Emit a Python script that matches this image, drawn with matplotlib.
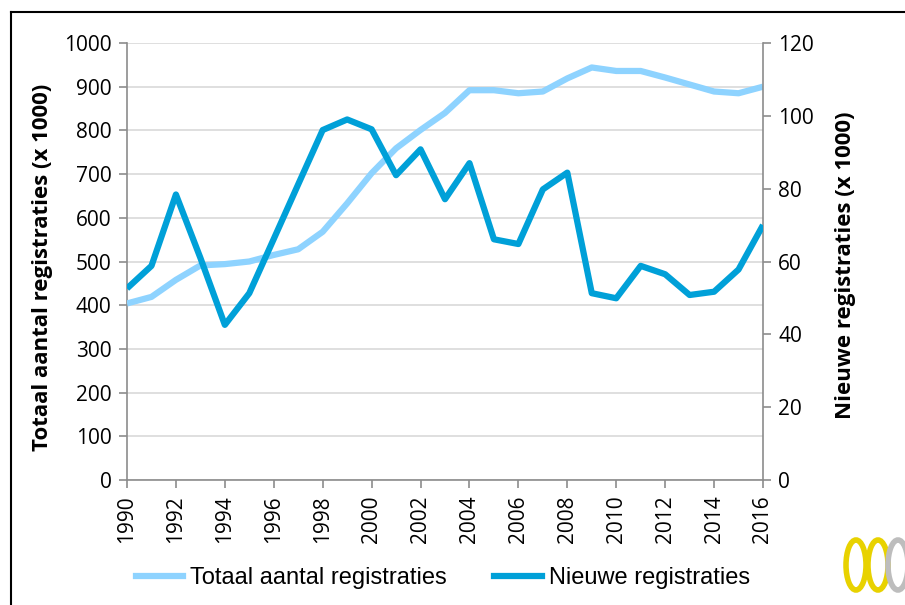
import matplotlib
matplotlib.use("Agg")
import matplotlib.pyplot as plt
from matplotlib.lines import Line2D
from matplotlib.patches import Ellipse

years = list(range(1990, 2017))
totaal = [404, 419, 458, 491, 494, 500, 515, 528, 568, 633, 702, 759, 801, 840,
          892, 892, 885, 889, 919, 944, 936, 936, 921, 905, 889, 885, 900]
nieuwe = [52.6, 58.8, 78.4, 61.0, 42.6, 51.3, 66.2, 81.2, 96.1, 99.0, 96.3, 83.7,
          90.8, 77.1, 87.0, 66.1, 64.8, 79.8, 84.4, 51.3, 49.9, 58.8, 56.5, 50.8,
          51.7, 57.8, 70.0]
xticks = list(range(1990, 2017, 2))

light = "#8ED3FF"
dark = "#00A0D8"
axcol = "#8C8C8C"

plt.rcParams['font.family'] = ['Open Sans', 'DejaVu Sans']

fig = plt.figure(figsize=(9.05, 6.05), dpi=100)
ax = fig.add_axes([127 / 905, 1 - 480 / 605, (763 - 127) / 905, (480 - 43) / 605])
ax2 = ax.twinx()

ax.plot(years, totaal, color=light, lw=4.5, solid_capstyle='butt', zorder=3)
ax2.plot(years, nieuwe, color=dark, lw=4.5, solid_capstyle='butt', zorder=3)

ax.set_xlim(1990, 2016)
ax.set_ylim(0, 1000)
ax2.set_ylim(0, 120)
ax.set_yticks(range(0, 1001, 100))
ax2.set_yticks(range(0, 121, 20))
ax.set_xticks(xticks)
ax.set_xticklabels([str(y) for y in xticks], rotation=90)

ax.grid(axis='y', color='#D9D9D9', lw=1.2)
ax.set_axisbelow(True)

for a in (ax, ax2):
    a.spines['top'].set_visible(False)
    for s in ('left', 'right', 'bottom'):
        a.spines[s].set_color(axcol)
        a.spines[s].set_linewidth(1.2)
    a.tick_params(axis='both', colors=axcol, labelcolor='black', labelsize=15,
                  length=6, width=1.2, direction='out', pad=5)
ax.spines['right'].set_visible(False)
ax2.spines['left'].set_visible(False)
ax2.spines['bottom'].set_visible(False)

ax.set_ylabel("Totaal aantal registraties (x 1000)", fontsize=16, fontweight='bold',
              va='center', ha='center')
ax.yaxis.set_label_coords((43 - 127) / 636, (480 - 267) / 437)
ax2.set_ylabel("Nieuwe registraties (x 1000)", fontsize=16, fontweight='bold',
               rotation=90, va='center', ha='center')
ax2.yaxis.set_label_coords((845 - 127) / 636, (480 - 265) / 437)

handles = [Line2D([], [], color=light, lw=4.5), Line2D([], [], color=dark, lw=4.5)]
fig.legend(handles, ["Totaal aantal registraties", "Nieuwe registraties"],
           loc='center', bbox_to_anchor=(443 / 905, 1 - 578 / 605), ncol=2, frameon=False,
           handlelength=2.0, handletextpad=0.3, columnspacing=2.0,
           prop={'family': ['Liberation Sans Narrow', 'Liberation Sans'], 'size': 17})

# border of the chart area
fig.add_artist(Line2D([11 / 905, 11 / 905], [0, 1 - 12 / 605], color='black', lw=1.5,
                      transform=fig.transFigure))
fig.add_artist(Line2D([11 / 905, 1], [1 - 12 / 605, 1 - 12 / 605], color='black', lw=1.5,
                      transform=fig.transFigure))

# logo in the corner (rough)
for cx, col in [(856, '#E8D200'), (878, '#E8D200'), (898, '#BDBDBD')]:
    fig.add_artist(Ellipse((cx / 905, 1 - 565 / 605), 20 / 905, 50 / 605, fill=False,
                           edgecolor=col, lw=4, transform=fig.transFigure))

fig.savefig("out.png", dpi=100)
